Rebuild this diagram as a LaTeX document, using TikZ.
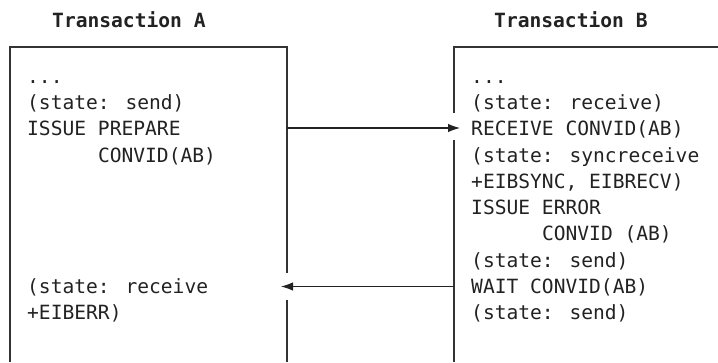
\documentclass[tikz,border=0pt]{standalone}
\usepackage{fontspec}
\newfontfamily\monofnt{DejaVu Sans Mono}
\usetikzlibrary{arrows.meta}
\definecolor{ink}{HTML}{222222}
\definecolor{rule}{HTML}{333333}
\begin{document}
\begin{tikzpicture}[x=1pt,y=-1pt,
  txt/.style={anchor=base west,inner sep=0pt,text=ink,font=\monofnt\fontsize{19.6}{26.3}\selectfont},
  ttl/.style={txt,font=\monofnt\bfseries\fontsize{19.6}{26.3}\selectfont},
  boxline/.style={draw=rule,line width=1.3pt},
  msg/.style={draw=ink,line width=1.1pt,-{Latex[length=12pt,width=8.5pt]}}]
\useasboundingbox (0,0) rectangle (718,362);
% titles
\node[ttl] (tA) at (52,27) {Transaction A};
\node[ttl] (tB) at (494,27) {Transaction B};
% boxes (open at bottom, gaps where the arrows pass)
\draw[boxline] (10,362) -- (10,47) -- (287,47) -- (287,273);
\draw[boxline] (287,300) -- (287,362);
\draw[boxline] (720,47) -- (454,47) -- (454,113);
\draw[boxline] (454,140) -- (454,362);
% text of transaction A
\node[txt] (a0) at (27,83.1) {...};
\node[txt] (a1) at (27,109.4) {(state: send)};
\node[txt] (a2) at (27,135.7) {ISSUE PREPARE};
\node[txt] (a3) at (27,162.0) {\phantom{CONVID}CONVID(AB)};
\node[txt] (a8) at (27,293.5) {(state: receive};
\node[txt] (a9) at (27,319.8) {+EIBERR)};
% text of transaction B
\node[txt] (b0) at (471,83.1) {...};
\node[txt] (b1) at (471,109.4) {(state: receive)};
\node[txt] (b2) at (471,135.7) {RECEIVE CONVID(AB)};
\node[txt] (b3) at (471,162.0) {(state: syncreceive};
\node[txt] (b4) at (471,188.3) {+EIBSYNC, EIBRECV)};
\node[txt] (b5) at (471,214.6) {ISSUE ERROR};
\node[txt] (b6) at (471,240.9) {\phantom{CONVID}CONVID (AB)};
\node[txt] (b7) at (471,267.2) {(state: send)};
\node[txt] (b8) at (471,293.5) {WAIT CONVID(AB)};
\node[txt] (b9) at (471,319.8) {(state: send)};
% arrow end points
\coordinate (s1) at (287,128);
\coordinate (e1) at (460,128);
\coordinate (s2) at (454,286.5);
\coordinate (e2) at (281,286.5);
\draw[msg] (s1) -- (e1);
\draw[msg] (s2) -- (e2);
\end{tikzpicture}
\end{document}
